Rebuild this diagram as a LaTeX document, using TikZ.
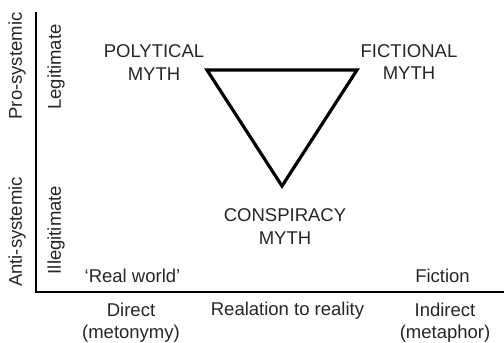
\documentclass[tikz,border=0pt]{standalone}
\usepackage{fontspec}
\setmainfont{Liberation Sans}
\begin{document}
\begin{tikzpicture}[x=1pt,y=-1pt,
  lbl/.style={font=\fontsize{18.5}{22.5}\selectfont, align=center, inner sep=0pt, text=black!85},
  rlbl/.style={lbl, rotate=90}]
\useasboundingbox (0,0) rectangle (504,343);
% axes
\coordinate (top) at (35.5,12);
\coordinate (origin) at (35.5,292);
\coordinate (right) at (504,292);
\draw[line width=2pt] (top) -- (origin) -- (right);
% triangle
\coordinate (pm) at (207,70);
\coordinate (fm) at (357,70);
\coordinate (cm) at (282,186);
\draw[line width=3.2pt, line join=miter] (pm) -- (fm) -- (cm) -- cycle;
% labels
\node[lbl] (pol) at (154,62.5) {POLYTICAL\\MYTH};
\node[lbl] (fic) at (409,62) {FICTIONAL\\MYTH};
\node[lbl] (con) at (285,226.5) {CONSPIRACY\\MYTH};
\node[lbl] (rw) at (132.5,275.5) {`Real world'};
\node[lbl] (fi) at (442.5,275.5) {Fiction};
\node[lbl] (di) at (131,322.5) {Direct\\(metonymy)};
\node[lbl] (rel) at (287.5,311) {Realation to reality};
\node[lbl] (ind) at (445,322.5) {Indirect\\(metaphor)};
\node[rlbl] (pro) at (17,66) {Pro-systemic};
\node[rlbl] (anti) at (17,232) {Anti-systemic};
\node[rlbl] (leg) at (56,67) {Legitimate};
\node[rlbl] (ill) at (56,230) {Illegitimate};
\end{tikzpicture}
\end{document}
